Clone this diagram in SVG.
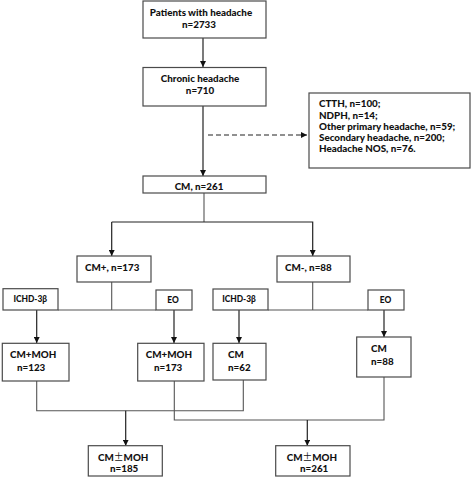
<svg xmlns="http://www.w3.org/2000/svg" width="472" height="478" viewBox="0 0 472 478">
<defs>
<style>
.box{fill:#fff;stroke:#4a4a4a;stroke-width:1.2}
.t{font-family:Lato,"Open Sans",sans-serif;font-weight:900;font-size:9.8px;fill:#111}
.s{font-size:8.4px}
.c{text-anchor:middle}
.ln{fill:none;stroke:#222;stroke-width:1.2}
.gl{fill:none;stroke:#555;stroke-width:1.1}
</style>
<marker id="ah" viewBox="0 0 10 10" refX="10" refY="5" markerWidth="6" markerHeight="6" orient="auto" markerUnits="userSpaceOnUse">
<path d="M0,0 L10,5 L0,10 z" fill="#111"/>
</marker>
</defs>
<rect width="472" height="478" fill="#fff"/>
<g id="connectors">
<line class="ln" x1="203" y1="38" x2="203" y2="67" marker-end="url(#ah)"/>
<line class="ln" x1="203" y1="106" x2="203" y2="176" marker-end="url(#ah)"/>
<line class="ln" x1="208" y1="135" x2="307" y2="135" stroke-dasharray="5,3" marker-end="url(#ah)"/>
<polyline class="gl" points="204,193 204,222"/>
<polyline class="ln" points="111.7,222 312.7,222 312.7,256" marker-end="url(#ah)"/>
<line class="ln" x1="111.7" y1="222" x2="111.7" y2="256" marker-end="url(#ah)"/>
<polyline class="gl" points="111.7,282 111.7,310"/>
<line class="gl" x1="58" y1="310" x2="156" y2="310"/>
<polyline class="gl" points="312.7,282 312.7,310"/>
<line class="gl" x1="268" y1="310" x2="368" y2="310"/>
<line class="ln" x1="36.7" y1="310" x2="36.7" y2="343" marker-end="url(#ah)"/>
<line class="ln" x1="174" y1="310" x2="174" y2="343" marker-end="url(#ah)"/>
<line class="ln" x1="239" y1="310" x2="239" y2="343" marker-end="url(#ah)"/>
<line class="ln" x1="384" y1="310" x2="384" y2="337" marker-end="url(#ah)"/>
<polyline class="gl" points="36.7,381 36.7,410.7 243.3,410.7 243.3,380"/>
<polyline class="gl" points="174.3,381 174.3,420 384,420 384,377"/>
<line class="ln" x1="125.7" y1="410.7" x2="125.7" y2="445.7" marker-end="url(#ah)"/>
<line class="ln" x1="307.3" y1="420" x2="307.3" y2="445.7" marker-end="url(#ah)"/>
</g>
<g id="n-patients"><rect class="box" x="143" y="1" width="123" height="37"/>
<text class="t c" x="201" y="16">Patients with headache</text><text class="t c" x="199" y="28">n=2733</text></g>
<g id="n-chronic"><rect class="box" x="143" y="67.5" width="123" height="38.5"/>
<text class="t c" x="200" y="82">Chronic headache</text><text class="t c" x="200" y="94">n=710</text></g>
<g id="n-excluded"><rect class="box" x="309" y="93" width="161" height="75"/>
<text class="t" x="319" y="107">CTTH, n=100;</text>
<text class="t" x="319" y="118.5">NDPH, n=14;</text>
<text class="t" x="319" y="130">Other primary headache, n=59;</text>
<text class="t" x="319" y="141">Secondary headache, n=200;</text>
<text class="t" x="319" y="152">Headache NOS, n=76.</text></g>
<g id="n-cm"><rect class="box" x="143" y="176" width="123" height="17"/>
<text class="t c" x="199" y="190">CM, n=261</text></g>
<g id="n-cmplus"><rect class="box" x="77" y="256" width="74" height="26"/>
<text class="t" x="85" y="271">CM+, n=173</text></g>
<g id="n-cmminus"><rect class="box" x="277" y="256" width="73" height="26"/>
<text class="t" x="285" y="271">CM-, n=88</text></g>
<g id="n-ichd1"><rect class="box" x="3" y="288.7" width="55" height="21.3"/>
<text class="t s c" x="30.3" y="302">ICHD-3β</text></g>
<g id="n-eo1"><rect class="box" x="156" y="290" width="36" height="20"/>
<text class="t s c" x="173" y="303">EO</text></g>
<g id="n-ichd2"><rect class="box" x="213" y="289" width="55" height="21"/>
<text class="t s c" x="239" y="302">ICHD-3β</text></g>
<g id="n-eo2"><rect class="box" x="368" y="290" width="36" height="20"/>
<text class="t s c" x="385.6" y="303">EO</text></g>
<g id="n-cmmoh123"><rect class="box" x="2.3" y="343.3" width="66.7" height="37.7"/>
<text class="t" x="10" y="358">CM+MOH</text><text class="t" x="17" y="370.5">n=123</text></g>
<g id="n-cmmoh173"><rect class="box" x="137.7" y="343.3" width="66.3" height="37.7"/>
<text class="t" x="145.7" y="358">CM+MOH</text><text class="t" x="154" y="370.5">n=173</text></g>
<g id="n-cm62"><rect class="box" x="213" y="343.3" width="53" height="36.7"/>
<text class="t" x="228" y="358">CM</text><text class="t" x="228" y="370.5">n=62</text></g>
<g id="n-cm88"><rect class="box" x="356.7" y="337" width="54.3" height="40"/>
<text class="t" x="371" y="352">CM</text><text class="t" x="371" y="365">n=88</text></g>
<g id="n-cmpm185"><rect class="box" x="88.3" y="445.7" width="74" height="30.3"/>
<text class="t" x="98" y="460.5">CM<tspan font-family="'Noto Sans CJK SC',sans-serif" font-weight="normal">±</tspan>MOH</text><text class="t" x="110" y="472">n=185</text></g>
<g id="n-cmpm261"><rect class="box" x="275.7" y="445.7" width="74.3" height="30.3"/>
<text class="t" x="286.7" y="460.5">CM<tspan font-family="'Noto Sans CJK SC',sans-serif" font-weight="normal">±</tspan>MOH</text><text class="t" x="300" y="472">n=261</text></g>
</svg>
